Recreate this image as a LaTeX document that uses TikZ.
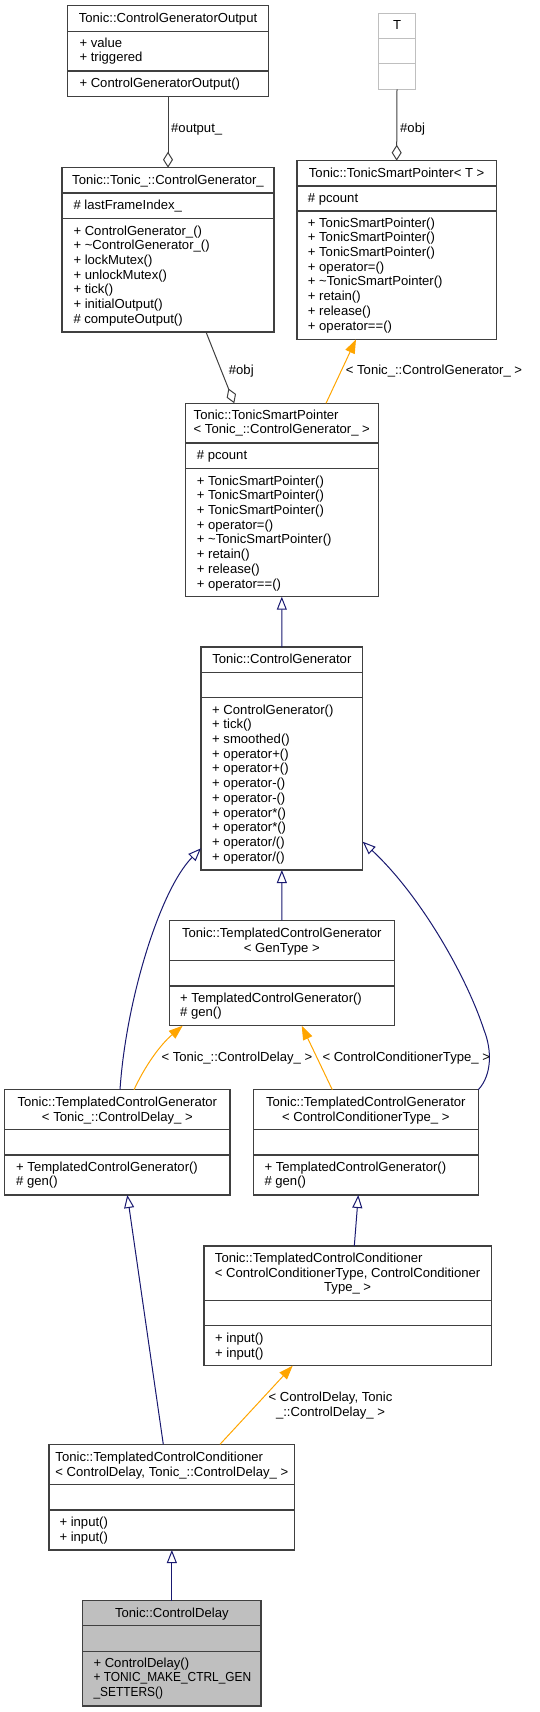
\documentclass[tikz,border=0pt]{standalone}
\usepackage{fontspec}
\setmainfont{Liberation Sans}
\usetikzlibrary{arrows.meta}
\definecolor{boxc}{HTML}{404040}
\definecolor{navyc}{HTML}{191970}
\definecolor{orangec}{HTML}{FFA500}
\definecolor{grayfill}{HTML}{BFBFBF}
\newcommand{\ftxt}{\fontsize{13.1}{14.7}\selectfont}
\newcommand{\umlsep}[4]{\draw[sepl] (#1,#3) -- (#2,#3) (#1,#4) -- (#2,#4);}
\tikzset{
  cls/.style={draw=boxc, line width=1.1pt, fill=white, inner sep=0pt, outer sep=0pt, anchor=north west},
  sepl/.style={draw=boxc, line width=1.1pt},
  ttl/.style={inner sep=0pt, font=\ftxt, anchor=north},
  mem/.style={inner sep=0pt, font=\ftxt, align=left, anchor=north west},
  lbl/.style={inner sep=0pt, font=\ftxt, anchor=north west},
  inh/.style={draw=navyc, line width=1pt, -{Triangle[open, length=13pt, width=10pt]}},
  tmpl/.style={draw=orangec, line width=1pt, -{Triangle[length=14pt, width=10pt, fill=orangec]}},
  usage/.style={draw=boxc, line width=1pt, -{Diamond[open, length=16pt, width=10pt]}}
}
\begin{document}
\begin{tikzpicture}[x=1pt,y=-1pt]
\useasboundingbox (0,0) rectangle (539,1712);

% ---------- boxes ----------
\node[cls, minimum width=200.6pt, minimum height=91pt] (cgo) at (67.7,5.7) {};
\umlsep{67.7}{268.3}{31.7}{71}
\node[ttl] (cgo-t) at (168,11.7) {\strut Tonic::ControlGeneratorOutput};
\node[mem] (cgo-a) at (79.3,36.7) {\strut + value\\+ triggered};
\node[mem] (cgo-m) at (79.3,76.7) {\strut + ControlGeneratorOutput()};

\node[cls, draw=grayfill, minimum width=37.4pt, minimum height=76pt] (T) at (378.3,13.3) {};
\draw[sepl, draw=grayfill] (378.3,38.7) -- (415.7,38.7) (378.3,63.7) -- (415.7,63.7);
\node[ttl] (T-t) at (397,19.4) {\strut T};

\node[cls, minimum width=212pt, minimum height=164.3pt] (cgU) at (62,167.7) {};
\umlsep{62}{274}{193}{218.7}
\node[ttl] (cgU-t) at (168,174.1) {\strut Tonic::Tonic\_::ControlGenerator\_};
\node[mem] (cgU-a) at (73.3,198.7) {\strut \# lastFrameIndex\_};
\node[mem] (cgU-m) at (73.3,224.7) {\strut + ControlGenerator\_()\\+ \textasciitilde ControlGenerator\_()\\+ lockMutex()\\+ unlockMutex()\\+ tick()\\+ initialOutput()\\\# computeOutput()};

\node[cls, minimum width=199.3pt, minimum height=178.6pt] (tspT) at (297,160.7) {};
\umlsep{297}{496.3}{186}{211}
\node[ttl] (tspT-t) at (396.65,167.1) {\strut Tonic::TonicSmartPointer< T >};
\node[mem] (tspT-a) at (307.7,192.1) {\strut \# pcount};
\node[mem] (tspT-m) at (307.7,216.7) {\strut + TonicSmartPointer()\\+ TonicSmartPointer()\\+ TonicSmartPointer()\\+ operator=()\\+ \textasciitilde TonicSmartPointer()\\+ retain()\\+ release()\\+ operator==()};

\node[cls, minimum width=193pt, minimum height=193.4pt] (tspCG) at (185.3,403.3) {};
\umlsep{185.3}{378.3}{443}{468.7}
\node[ttl, align=left] (tspCG-t) at (281.8,408.7) {\strut Tonic::TonicSmartPointer\\< Tonic\_::ControlGenerator\_ >};
\node[mem] (tspCG-a) at (196.7,449.1) {\strut \# pcount};
\node[mem] (tspCG-m) at (196.7,474.7) {\strut + TonicSmartPointer()\\+ TonicSmartPointer()\\+ TonicSmartPointer()\\+ operator=()\\+ \textasciitilde TonicSmartPointer()\\+ retain()\\+ release()\\+ operator==()};

\node[cls, minimum width=161.7pt, minimum height=223pt] (cg) at (201,647) {};
\umlsep{201}{362.7}{672.7}{697.7}
\node[ttl] (cg-t) at (281.85,653.1) {\strut Tonic::ControlGenerator};
\node[mem] (cg-m) at (212,703.7) {\strut + ControlGenerator()\\+ tick()\\+ smoothed()\\+ operator+()\\+ operator+()\\+ operator-()\\+ operator-()\\+ operator*()\\+ operator*()\\+ operator/()\\+ operator/()};

\node[cls, minimum width=225pt, minimum height=105.4pt] (tcgGen) at (169.3,920.3) {};
\umlsep{169.3}{394.3}{960.7}{986}
\node[ttl, align=center] (tcgGen-t) at (281.8,927.1) {\strut Tonic::TemplatedControlGenerator\\< GenType >};
\node[mem] (tcgGen-m) at (180,991.7) {\strut + TemplatedControlGenerator()\\\# gen()};

\node[cls, minimum width=225.3pt, minimum height=105.3pt] (tcgCD) at (4.7,1089.7) {};
\umlsep{4.7}{230}{1129.7}{1155}
\node[ttl, align=center] (tcgCD-t) at (117.35,1096.1) {\strut Tonic::TemplatedControlGenerator\\< Tonic\_::ControlDelay\_ >};
\node[mem] (tcgCD-m) at (16,1160.7) {\strut + TemplatedControlGenerator()\\\# gen()};

\node[cls, minimum width=225pt, minimum height=105.3pt] (tcgCCT) at (253.3,1089.7) {};
\umlsep{253.3}{478.3}{1129.7}{1155}
\node[ttl, align=center] (tcgCCT-t) at (365.8,1096.1) {\strut Tonic::TemplatedControlGenerator\\< ControlConditionerType\_ >};
\node[mem] (tcgCCT-m) at (264.3,1160.7) {\strut + TemplatedControlGenerator()\\\# gen()};

\node[cls, minimum width=287.3pt, minimum height=119.7pt] (tccCCT) at (204,1246) {};
\umlsep{204}{491.3}{1300.7}{1325.7}
\node[ttl, align=left] (tccCCT-t) at (347.65,1252.1) {\strut Tonic::TemplatedControlConditioner\\< ControlConditionerType, ControlConditioner};
\node[ttl] (tccCCT-t3) at (347.65,1281.1) {\strut Type\_ >};
\node[mem] (tccCCT-m) at (215,1332.1) {\strut + input()\\+ input()};

\node[cls, minimum width=245.7pt, minimum height=105.7pt] (tccCD) at (49,1444.3) {};
\umlsep{49}{294.7}{1484.3}{1510}
\node[ttl, align=left] (tccCD-t) at (171.85,1451.1) {\strut Tonic::TemplatedControlConditioner\\< ControlDelay, Tonic\_::ControlDelay\_ >};
\node[mem] (tccCD-m) at (59.3,1516.1) {\strut + input()\\+ input()};

\node[cls, fill=grayfill, minimum width=178.3pt, minimum height=105.3pt] (cd) at (82.7,1600.7) {};
\umlsep{82.7}{261}{1625.7}{1651.3}
\node[ttl] (cd-t) at (171.85,1606.7) {\strut Tonic::ControlDelay};
\node[mem] (cd-m) at (93.3,1656.7) {\strut + ControlDelay()\\\scalebox{0.91}[1]{+ TONIC\_MAKE\_CTRL\_GEN}\\\scalebox{0.91}[1]{\_SETTERS()}};

% ---------- connectors ----------
\draw[usage] (cgo.south) -- (cgU.north);
\node[lbl] (l-out) at (171,122.1) {\strut\#output\_};
\draw[usage] (T.south) -- (tspT.north);
\node[lbl] (l-objT) at (400,122.1) {\strut\#obj};
\draw[usage] ([xshift=38pt]cgU.south) -- ([xshift=-47.5pt]tspCG.north);
\node[lbl] (l-obj) at (228.7,364.4) {\strut\#obj};
\draw[tmpl] ([xshift=44.2pt]tspCG.north) -- ([xshift=-40.65pt]tspT.south);
\node[lbl] (l-cg) at (345.7,364.4) {\strut< Tonic\_::ControlGenerator\_ >};

\draw[inh] (cg.north) -- (tspCG.south);
\draw[inh] (tcgGen.north) -- (cg.south);
\draw[inh] ([xshift=2.65pt]tcgCD.north) .. controls (126,1000) and (160,890) .. ([yshift=-89.8pt]cg.west);
\draw[inh] (tcgCCT.north east) .. controls (492,1075) and (492,1050) .. (484,1030) .. controls (466,975) and (420,895) .. ([yshift=-83.2pt]cg.east);

\draw[tmpl] ([xshift=16.65pt]tcgCD.north) .. controls (145,1066) and (160,1045) .. ([xshift=-99.1pt]tcgGen.south);
\node[lbl] (l-cd) at (161.3,1051.1) {\strut< Tonic\_::ControlDelay\_ >};
\draw[tmpl] ([xshift=-33.5pt]tcgCCT.north) -- ([xshift=19.9pt]tcgGen.south);
\node[lbl] (l-cct) at (322.3,1051.1) {\strut< ControlConditionerType\_ >};

\draw[inh] ([xshift=6.65pt]tccCCT.north) -- ([xshift=-7.5pt]tcgCCT.south);
\draw[inh] ([xshift=-8.55pt]tccCD.north) -- ([xshift=9.95pt]tcgCD.south);
\draw[tmpl] ([xshift=48.15pt]tccCD.north) -- ([xshift=-54.95pt]tccCCT.south);
\node[ttl, align=center] (l-cdt) at (330.5,1391.1) {\strut< ControlDelay, Tonic\\\_::ControlDelay\_ >};

\draw[inh] (cd.north) -- (tccCD.south);
\end{tikzpicture}
\end{document}
